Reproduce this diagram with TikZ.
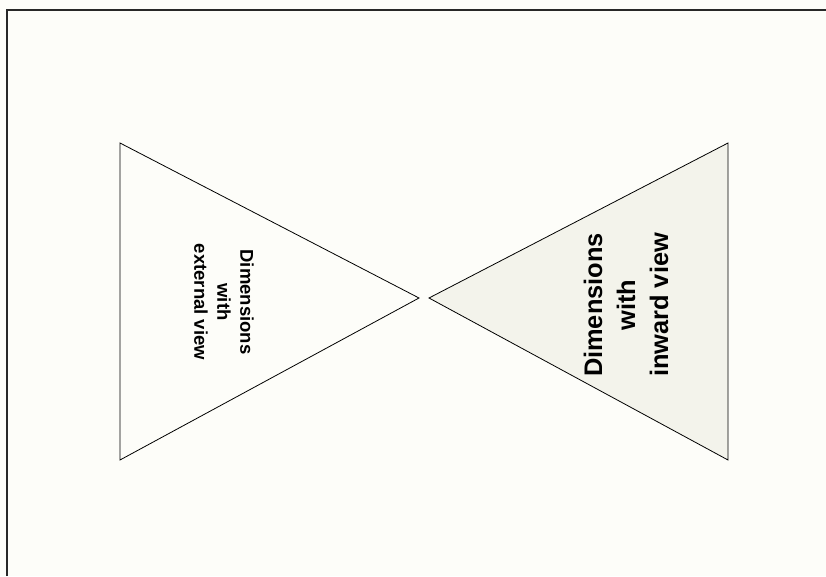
\documentclass[tikz,border=0pt]{standalone}
\usepackage{fontspec}
\newfontfamily\labelfont{Liberation Sans}
\definecolor{paper}{RGB}{253,253,249}
\definecolor{conefill}{RGB}{243,243,235}
\definecolor{frameline}{RGB}{40,40,40}

\begin{document}
\begin{tikzpicture}[x=1pt,y=1pt]
\path[use as bounding box,fill=paper] (0,0) rectangle (826,576);
% page frame (cut off at right and bottom)
\draw[frameline,line width=1.3pt] (7,0)--(7,566)--(826,566);
% the two cones
\draw[line width=.8pt] (120,433)--(419,278)--(120,116)--cycle;
\draw[fill=conefill,line width=.8pt] (728,433)--(429,278)--(728,116)--cycle;
\node[rotate=-90,align=center,inner sep=0pt,font=\labelfont\bfseries\fontsize{18.5}{23}\selectfont] (external) at (224,274) {Dimensions\\with\\external view};
\node[rotate=90,align=center,inner sep=0pt,font=\labelfont\bfseries\fontsize{25.4}{33}\selectfont] (inward) at (626,271) {Dimensions\\with\\inward view};
\end{tikzpicture}
\end{document}
